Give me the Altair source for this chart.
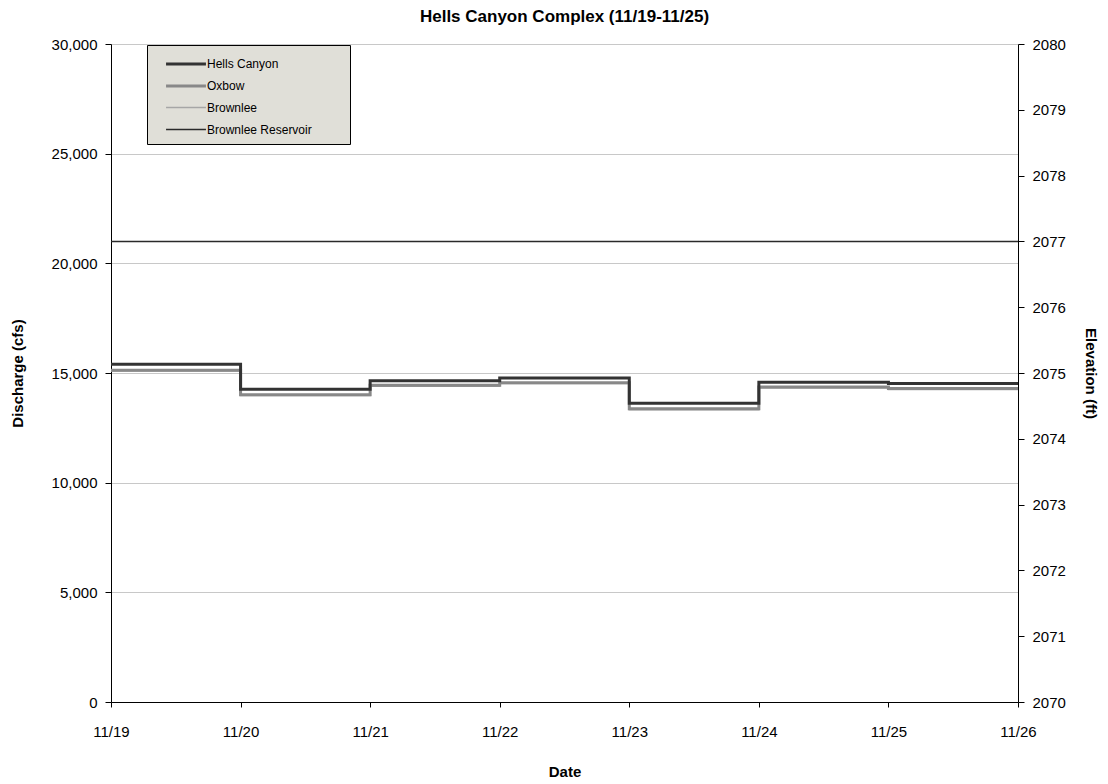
import altair as alt
import pandas as pd

day_labels = ["11/19", "11/20", "11/21", "11/22", "11/23", "11/24", "11/25", "11/26"]
days = [0, 1, 2, 3, 4, 5, 6, 7]
hells_canyon = [15400, 14260, 14650, 14770, 13620, 14580, 14520, 14520]
oxbow = [15130, 14010, 14440, 14560, 13370, 14360, 14290, 14290]
brownlee = [15090, 13970, 14400, 14520, 13330, 14320, 14250, 14250]
reservoir = [2077.0, 2077.0, 2077.0, 2077.0, 2077.0, 2077.0, 2077.0, 2077.0]

series_names = ["Hells Canyon", "Oxbow", "Brownlee", "Brownlee Reservoir"]
series_colors = ["#333333", "#888888", "#a6a6a6", "#2a2a2a"]
series_widths = [3, 3, 1.5, 1.5]

rows = []
for name, vals in [("Brownlee", brownlee), ("Oxbow", oxbow), ("Hells Canyon", hells_canyon)]:
    for d, v in zip(days, vals):
        rows.append({"day": d, "series": name, "value": v})
flow = pd.DataFrame(rows)
res = pd.DataFrame({"day": days, "series": "Brownlee Reservoir", "elev": reservoir})

label_expr = "[" + ",".join("'%s'" % s for s in day_labels) + "][datum.value]"

x = alt.X("day:Q", title="Date",
          scale=alt.Scale(domain=[0, 7], nice=False, zero=False),
          axis=alt.Axis(values=days, labelExpr=label_expr, grid=False, labelFlush=False,
                        tickSize=5, labelPadding=17, titlePadding=25))

legend = alt.Legend(
    title="\u00a0", titleOrient="right", titlePadding=30, titleFontSize=11,
    orient="none", legendX=36, legendY=1,
    symbolType="M-2.1,0H2.1", symbolSize=361, rowPadding=5,
    symbolOffset=20, labelOffset=10,
    fillColor="#e0dfd8", strokeColor="#000000", padding=8,
    labelFontSize=12, labelFont="Liberation Sans", labelColor="#000")

color = alt.Color("series:N",
                  scale=alt.Scale(domain=series_names, range=series_colors),
                  legend=legend)

sw = alt.StrokeWidth("series:N",
                     scale=alt.Scale(type="ordinal", domain=series_names, range=series_widths),
                     legend=legend)

flow_layer = alt.Chart(flow).mark_line(interpolate="step-after").encode(
    x=x,
    y=alt.Y("value:Q", title="Discharge (cfs)",
            scale=alt.Scale(domain=[0, 30000], nice=False),
            axis=alt.Axis(values=[0, 5000, 10000, 15000, 20000, 25000, 30000], format=",.0f",
                          grid=True, gridColor="#c8c8c8", tickSize=6, labelPadding=8,
                          titlePadding=26)),
    color=color,
    strokeWidth=sw,
    order=alt.Order("series:N"),
)

res_layer = alt.Chart(res).mark_line(interpolate="step-after").encode(
    x=x,
    y=alt.Y("elev:Q", title="Elevation (ft)",
            scale=alt.Scale(domain=[2070, 2080], nice=False, zero=False),
            axis=alt.Axis(orient="right", values=list(range(2070, 2081)), format="d",
                          grid=False, tickSize=6, labelPadding=8, titlePadding=17)),
    color=color,
    strokeWidth=sw,
)

chart = alt.layer(flow_layer, res_layer).resolve_scale(y="independent").properties(
    width=907, height=658,
    title=alt.TitleParams("Hells Canyon Complex (11/19-11/25)", fontSize=17,
                          font="Liberation Sans", fontWeight="bold", offset=11,
                          frame="group", color="#000"),
    autosize=alt.AutoSizeParams(type="none"),
    padding={"left": 103, "top": 36, "right": 82, "bottom": 80},
    background="white",
).configure_view(stroke=None).configure_axis(
    labelFont="Liberation Sans", labelFontSize=15, labelColor="#000",
    titleFont="Liberation Sans", titleFontSize=15, titleFontWeight="bold", titleColor="#000",
    domainColor="#000", tickColor="#000", domainWidth=1,
)

chart.save("out.html", embed_options={"renderer": "svg", "actions": False})
